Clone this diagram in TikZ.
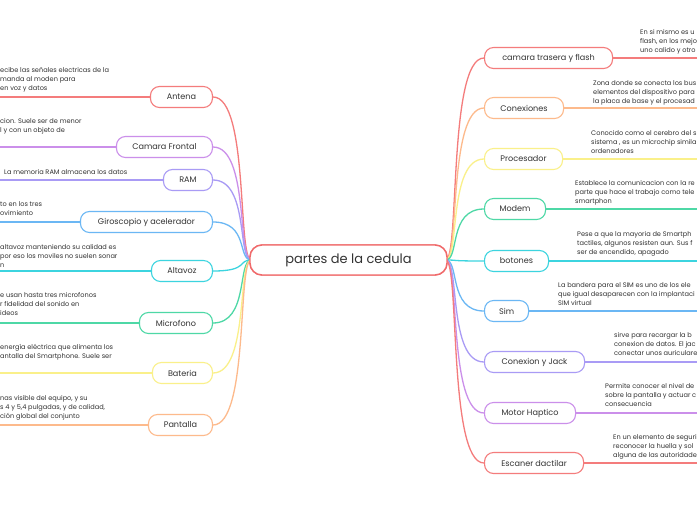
\documentclass[tikz,border=0pt]{standalone}
\usepackage{fontspec}
\setmainfont{Poppins}
\definecolor{cred}{HTML}{F47C7C}
\definecolor{ccen}{HTML}{F06A6B}
\definecolor{corange}{HTML}{FDBA8C}
\definecolor{cyellow}{HTML}{FAF08A}
\definecolor{cgreen}{HTML}{4ED8A6}
\definecolor{ccyan}{HTML}{3CD4DF}
\definecolor{cblue}{HTML}{6BB7F4}
\definecolor{clav}{HTML}{A99BF5}
\definecolor{cpurple}{HTML}{CB8FEA}
\definecolor{ctext}{HTML}{333333}
\begin{document}
\begin{tikzpicture}[x=1pt,y=-1pt,
  branch/.style={draw, rounded corners=9pt, line width=1.1pt, minimum height=21pt, inner xsep=0pt, fill=white, text=ctext, font=\fontsize{8.1}{9}\selectfont},
  centre/.style={draw=ccen, line width=1.4pt, rounded corners=12pt, minimum width=197pt, minimum height=30pt, inner sep=0pt, fill=white, text=ctext, font=\fontsize{13}{15}\selectfont},
  desc/.style={align=left, inner sep=0pt, anchor=north west, text=ctext, font=\fontsize{6.6}{9}\selectfont},
  conn/.style={line width=1.3pt},
  lead/.style={line width=1.3pt}]
\useasboundingbox (0,0) rectangle (697,520);
\clip (0,0) rectangle (697,520);
\fill[white] (0,0) rectangle (697,520);

% edge coordinates
\coordinate (L) at (0,0);
\coordinate (R) at (697,0);

% central node
\node[centre] (c) at (348.5,260) {partes de la cedula};

% left branches
\node[branch, draw=cred, minimum width=62pt, anchor=east] (antena) at (213,97) {Antena};
\node[branch, draw=cpurple, minimum width=96pt, anchor=east] (camf) at (213,147) {Camara Frontal};
\node[branch, draw=clav, minimum width=49pt, anchor=east] (ram) at (213,180) {RAM};
\node[branch, draw=cblue, minimum width=132pt, anchor=east] (giro) at (213,222) {Giroscopio y acelerador};
\node[branch, draw=ccyan, minimum width=61pt, anchor=east] (alta) at (213,271) {Altavoz};
\node[branch, draw=cgreen, minimum width=73pt, anchor=east] (micro) at (213,323) {Microfono};
\node[branch, draw=cyellow, minimum width=60pt, anchor=east] (bat) at (213,373) {Bateria};
\node[branch, draw=corange, minimum width=64pt, anchor=east] (pant) at (213,425) {Pantalla};

% right branches
\node[branch, draw=cred, minimum width=128pt, anchor=west] (camt) at (484,58) {camara trasera y flash};
\node[branch, draw=corange, minimum width=79pt, anchor=west] (conex) at (484,108) {Conexiones};
\node[branch, draw=cyellow, minimum width=78pt, anchor=west] (proc) at (484,159) {Procesador};
\node[branch, draw=cgreen, minimum width=61pt, anchor=west] (modem) at (484,209) {Modem};
\node[branch, draw=ccyan, minimum width=64pt, anchor=west] (boto) at (484,261) {botones};
\node[branch, draw=cblue, minimum width=44pt, anchor=west] (sim) at (484,311) {Sim};
\node[branch, draw=clav, minimum width=100pt, anchor=west] (jack) at (484,362) {Conexion y Jack};
\node[branch, draw=cpurple, minimum width=91pt, anchor=west] (hapt) at (484,413) {Motor Haptico};
\node[branch, draw=cred, minimum width=99pt, anchor=west] (esc) at (484,463) {Escaner dactilar};

% connectors center -> branches
\foreach \n/\col in {antena/cred, camf/cpurple, ram/clav, giro/cblue, alta/ccyan, micro/cgreen, bat/cyellow, pant/corange}{
  \draw[conn, draw=\col] ([xshift=2pt]c.west) .. controls +(-14,0) and +(36,0) .. (\n.east);
}
\foreach \n/\col in {camt/cred, conex/corange, proc/cyellow, modem/cgreen, boto/ccyan, sim/cblue, jack/clav, hapt/cpurple, esc/cred}{
  \draw[conn, draw=\col] ([xshift=-2pt]c.east) .. controls +(14,0) and +(-36,0) .. (\n.west);
}

% leader lines to edges
\foreach \n/\col in {antena/cred, camf/cpurple, ram/clav, giro/cblue, alta/ccyan, micro/cgreen, bat/cyellow, pant/corange}{
  \draw[lead, draw=\col] (\n.west) -- (\n.west -| L);
}
\foreach \n/\col in {camt/cred, conex/corange, proc/cyellow, modem/cgreen, boto/ccyan, sim/cblue, jack/clav, hapt/cpurple, esc/cred}{
  \draw[lead, draw=\col] (\n.east) -- (\n.east -| R);
}

% central node again, above its connectors
\node[centre] (c2) at (c) {partes de la cedula};

% left descriptions
\node[desc] (dantena) at (0,67.5) {ecibe las señales electricas de la\\ manda al moden para\\en voz y datos};
\node[desc] (dcamf) at (0,118.5) {cion. Suele ser de menor\\l y con un objeto de};
\node[desc] (dram) at (4,169.5) {La memoria RAM almacena los datos};
\node[desc] (dgiro) at (0,201.5) {to en los tres\\ovimiento};
\node[desc] (dalta) at (0,244.5) {altavoz manteniendo su calidad  es\\por eso los moviles no suelen sonar\\n};
\node[desc] (dmicro) at (0,292.5) {e usan hasta tres microfonos\\r fidelidad del sonido en\\ideos};
\node[desc] (dbat) at (0,344.5) {energía eléctrica que alimenta los\\antalla del Smartphone. Suele ser};
\node[desc] (dpant) at (0,395.5) {nas visible del equipo, y su\\s 4  y 5,4 pulgadas, y de calidad,\\ción global del conjunto};

% right descriptions
\node[desc] (dcamt) at (640,29.5) {En si mismo es u\\flash, en los mejo\\uno calido y otro};
\node[desc] (dconex) at (593,80.5) {Zona donde se conecta los bus\\elementos del dispositivo para\\la placa de base y el procesad};
\node[desc] (dproc) at (591,130.5) {Conocido como el cerebro del s\\sistema , es un microchip simila\\ordenadores};
\node[desc] (dmodem) at (575,180.5) {Establece la comunicacion con la re\\parte que hace el trabajo como tele\\smartphon};
\node[desc] (dboto) at (577,231.5) {Pese a que la mayoria de Smartph\\tactiles, algunos resisten aun. Sus f\\ser de encendido, apagado};
\node[desc] (dsim) at (558,282.5) {La bandera para el SIM es uno de los ele\\que igual desaparecen con la implantaci\\SIM virtual};
\node[desc] (djack) at (614,332.5) {sirve para recargar la b\\conexion de datos. El jac\\conectar unos auriculare};
\node[desc] (dhapt) at (605,383.5) {Permite conocer el nivel de\\sobre la pantalla y actuar c\\consecuencia};
\node[desc] (desc1) at (613,434.5) {En un elemento de seguri\\reconocer la huella y sol\\alguna de las autoridade};
\end{tikzpicture}
\end{document}
